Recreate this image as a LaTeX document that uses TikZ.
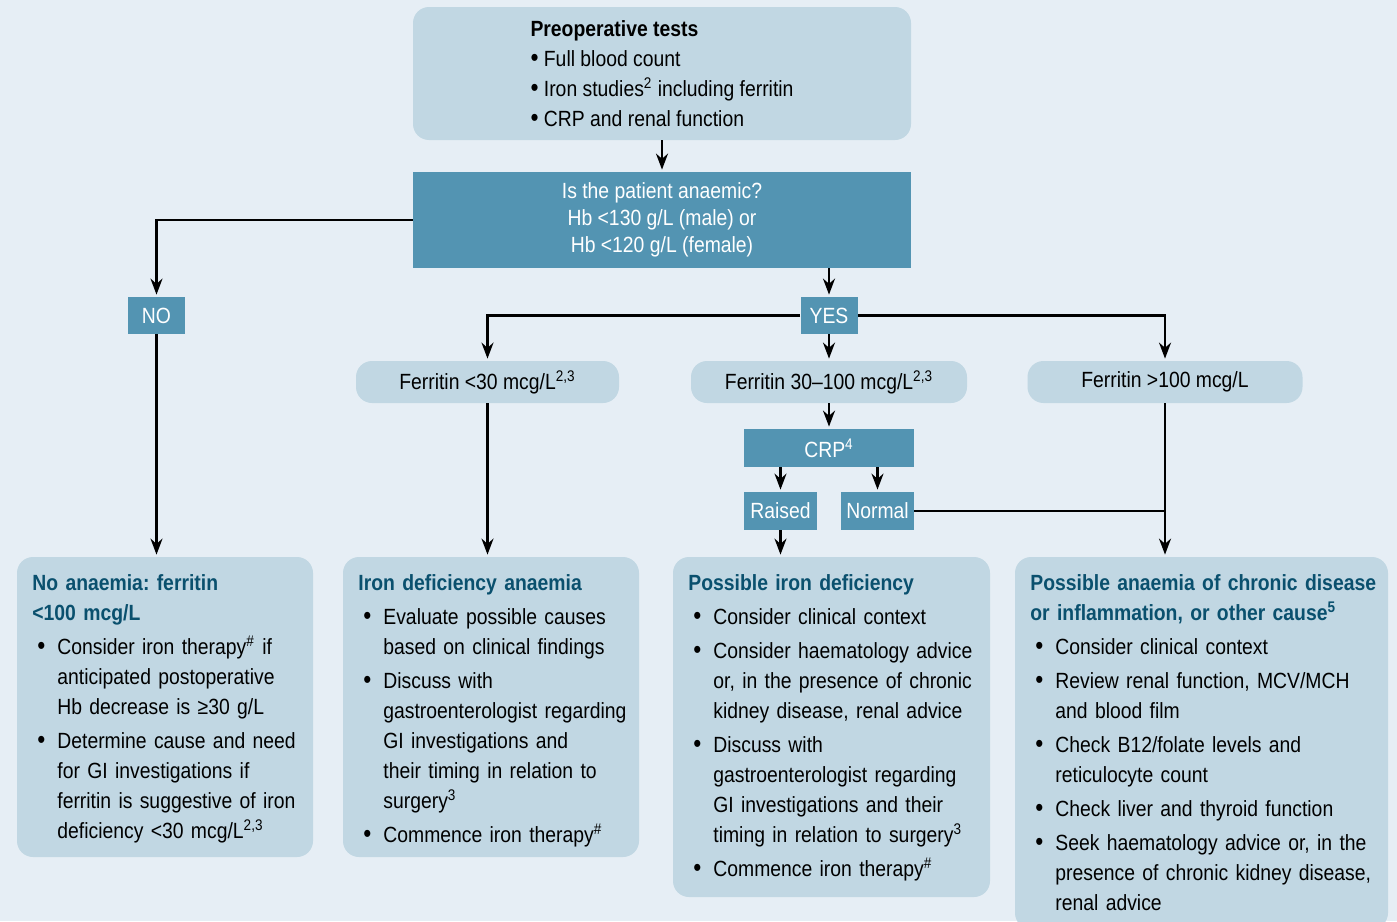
\documentclass[tikz,border=0pt]{standalone}
\usepackage{fontspec}
\setmainfont{Liberation Sans}[FakeStretch=0.88]
\frenchspacing
\usetikzlibrary{arrows.meta}
\definecolor{bgcol}{HTML}{E6EEF5}
\definecolor{boxcol}{HTML}{C1D7E3}
\definecolor{darkcol}{HTML}{5394B2}
\definecolor{headcol}{HTML}{0A506E}
\newcommand{\bigdot}{{\fontsize{13}{15}\selectfont\textbullet}}
\newcommand{\bul}{\par\vspace{2pt}\hangindent=12.5pt\hangafter=1\noindent\hspace*{2.5pt}\makebox[10pt][l]{\bigdot}}
\newcommand{\boxhead}[1]{\textcolor{headcol}{\textbf{#1}}}
\tikzset{
  softbox/.style={fill=boxcol, rounded corners=8pt, inner sep=0pt, font=\fontsize{11}{15}\selectfont},
  darkbox/.style={fill=darkcol, text=white, inner sep=0pt, font=\fontsize{11}{13.5}\selectfont},
  outtext/.style={anchor=north west, inner sep=0pt, align=left, font=\fontsize{11}{15}\selectfont},
  arr/.style={-{Stealth[length=8pt,width=6pt]}, line width=1.1pt, shorten >=1pt},
}

\begin{document}
\begin{tikzpicture}[x=0.5pt,y=-0.5pt]
      \fill[bgcol] (0,0) rectangle (1397,921);
      \useasboundingbox (0,0) rectangle (1397,921);
      \node[softbox, minimum width=249pt, minimum height=66.5pt, align=left] (preop) at (662,73.5)
        {\textbf{Preoperative tests}\\ \bigdot\ Full blood count\\ \bigdot\ Iron studies\textsuperscript{2} including ferritin\\ \bigdot\ CRP and renal function};
      \node[darkbox, minimum width=249pt, minimum height=48pt, align=center] (anaemic) at (662,220)
        {Is the patient anaemic?\\ Hb <130 g/L (male) or\\ Hb <120 g/L (female)};
      \node[darkbox, minimum width=28.5pt, minimum height=18.5pt] (no) at (156.5,315.5) {NO};
      \node[darkbox, minimum width=28.5pt, minimum height=18.5pt] (yes) at (829,315.5) {YES};
      \node[softbox, minimum width=131.5pt, minimum height=21pt] (ferr1) at (487.5,382) {Ferritin <30 mcg/L\textsuperscript{2,3}};
      \node[softbox, minimum width=138pt, minimum height=21pt] (ferr2) at (829,382) {Ferritin 30--100 mcg/L\textsuperscript{2,3}};
      \node[softbox, minimum width=137.5pt, minimum height=21pt] (ferr3) at (1165,382) {Ferritin >100 mcg/L};
      \node[darkbox, minimum width=85pt, minimum height=19pt] (crp) at (829,448) {CRP\textsuperscript{4}};
      \node[darkbox, minimum width=36.5pt, minimum height=19pt] (raised) at (780.5,511) {Raised};
      \node[darkbox, minimum width=36.5pt, minimum height=19pt] (normal) at (877.5,511) {Normal};
      \node[softbox, minimum width=148pt, minimum height=150pt] (noan) at (165,707) {};
      \node[softbox, minimum width=148pt, minimum height=150pt] (ida) at (491,707) {};
      \node[softbox, minimum width=158.5pt, minimum height=170pt] (possib) at (831.5,727) {};
      \node[softbox, minimum width=186.5pt, minimum height=186pt] (chronic) at (1201.5,743) {};
      \node[outtext, text width=139pt] (noantext) at (32,574)
        {\boxhead{No anaemia: ferritin\\ <100 mcg/L}
         \bul Consider iron therapy\textsuperscript{\#} if\newline anticipated postoperative\newline Hb decrease is ≥30 g/L
         \bul Determine cause and need\newline for GI investigations if\newline ferritin is suggestive of iron\newline deficiency <30 mcg/L\textsuperscript{2,3}\par};
      \node[outtext, text width=139pt] (idatext) at (358,574)
        {\boxhead{Iron deficiency anaemia}
         \bul Evaluate possible causes\newline based on clinical findings
         \bul Discuss with\newline gastroenterologist regarding\newline GI investigations and\newline their timing in relation to\newline surgery\textsuperscript{3}
         \bul Commence iron therapy\textsuperscript{\#}\par};
      \node[outtext, text width=150pt] (possibtext) at (688,574)
        {\boxhead{Possible iron deficiency}
         \bul Consider clinical context
         \bul Consider haematology advice\newline or, in the presence of chronic\newline kidney disease, renal advice
         \bul Discuss with\newline gastroenterologist regarding\newline GI investigations and their\newline timing in relation to surgery\textsuperscript{3}
         \bul Commence iron therapy\textsuperscript{\#}\par};
      \node[outtext, text width=178pt] (chronictext) at (1030,574)
        {\boxhead{Possible anaemia of chronic disease\\ or inflammation, or other cause\textsuperscript{5}}
         \bul Consider clinical context
         \bul Review renal function, MCV/MCH\newline and blood film
         \bul Check B12/folate levels and\newline reticulocyte count
         \bul Check liver and thyroid function
         \bul Seek haematology advice or, in the\newline presence of chronic kidney disease,\newline renal advice\par};
      \draw[arr] (preop) -- (anaemic);
      \draw[arr] (anaemic.west) -| (no);
      \draw[arr] (no) -- (no |- noan.north);
      \draw[arr] (anaemic.south -| yes) -- (yes);
      \draw[arr] (yes) -| (ferr1);
      \draw[arr] (yes) -| (ferr3);
      \draw[arr] (yes) -- (ferr2);
      \draw[arr] (ferr2) -- (crp);
      \draw[arr] (crp.south -| raised) -- (raised);
      \draw[arr] (crp.south -| normal) -- (normal);
      \draw[arr] (raised) -- (raised |- possib.north);
      \draw[arr] (ferr1) -- (ferr1 |- ida.north);
      \draw[arr] (ferr3) -- (ferr3 |- chronic.north);
      \draw[line width=1.1pt] (normal) -- (normal -| ferr3);
   \end{tikzpicture}
\end{document}
